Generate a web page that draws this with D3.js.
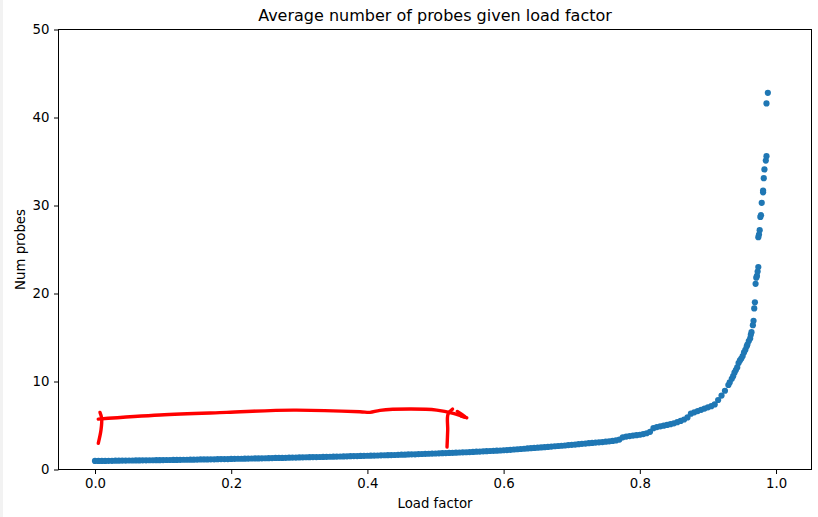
<!DOCTYPE html>
<html>
<head>
<meta charset="utf-8">
<script src="https://cdn.jsdelivr.net/npm/d3@7"></script>
<style>
  html, body { margin: 0; padding: 0; background: #fff; }
  svg { display: block; }
  text { font-family: 'DejaVu Sans', sans-serif; fill: #000; }
</style>
</head>
<body>
<svg id="chart"></svg>
<script>
// 平均探測次數 vs 負載因子（散點 + 手繪紅色標註）

// 密集段 [load factor, num probes]
const curvePoints = [
  [0.000,0.97],[0.005,0.97],[0.010,0.98],[0.015,0.98],[0.020,0.99],[0.025,0.99],[0.030,1.00],[0.035,1.00],
  [0.040,1.01],[0.045,1.01],[0.050,1.02],[0.055,1.02],[0.060,1.03],[0.065,1.03],[0.070,1.04],[0.075,1.04],
  [0.080,1.05],[0.085,1.05],[0.090,1.06],[0.095,1.06],[0.100,1.07],[0.105,1.08],[0.110,1.08],[0.115,1.09],
  [0.120,1.09],[0.125,1.10],[0.130,1.11],[0.135,1.11],[0.140,1.12],[0.145,1.12],[0.150,1.13],[0.155,1.14],
  [0.160,1.14],[0.165,1.15],[0.170,1.16],[0.175,1.16],[0.180,1.17],[0.185,1.18],[0.190,1.19],[0.195,1.19],
  [0.200,1.20],[0.205,1.21],[0.210,1.22],[0.215,1.22],[0.220,1.23],[0.225,1.24],[0.230,1.25],[0.235,1.26],
  [0.240,1.26],[0.245,1.27],[0.250,1.28],[0.255,1.29],[0.260,1.30],[0.265,1.31],[0.270,1.31],[0.275,1.32],
  [0.280,1.33],[0.285,1.34],[0.290,1.35],[0.295,1.36],[0.300,1.37],[0.305,1.38],[0.310,1.39],[0.315,1.40],
  [0.320,1.41],[0.325,1.41],[0.330,1.42],[0.335,1.43],[0.340,1.44],[0.345,1.45],[0.350,1.46],[0.355,1.47],
  [0.360,1.48],[0.365,1.49],[0.370,1.50],[0.375,1.51],[0.380,1.52],[0.385,1.53],[0.390,1.54],[0.395,1.55],
  [0.400,1.56],[0.405,1.57],[0.410,1.58],[0.415,1.59],[0.420,1.61],[0.425,1.62],[0.430,1.63],[0.435,1.64],
  [0.440,1.65],[0.445,1.67],[0.450,1.68],[0.455,1.69],[0.460,1.71],[0.465,1.72],[0.470,1.73],[0.475,1.75],
  [0.480,1.76],[0.485,1.78],[0.490,1.79],[0.495,1.81],[0.500,1.82],[0.505,1.84],[0.510,1.85],[0.515,1.87],
  [0.520,1.88],[0.525,1.90],[0.530,1.91],[0.535,1.93],[0.540,1.95],[0.545,1.96],[0.550,1.98],[0.555,2.00],
  [0.560,2.02],[0.565,2.04],[0.570,2.06],[0.575,2.08],[0.580,2.10],[0.585,2.12],[0.590,2.14],[0.595,2.16],
  [0.600,2.19],[0.605,2.21],[0.610,2.24],[0.615,2.27],[0.620,2.30],[0.625,2.33],[0.630,2.36],[0.635,2.39],
  [0.640,2.42],[0.645,2.45],[0.650,2.48],[0.655,2.51],[0.660,2.54],[0.665,2.57],[0.670,2.61],[0.675,2.64],
  [0.680,2.67],[0.685,2.70],[0.690,2.73],[0.695,2.77],[0.700,2.80],[0.705,2.83],[0.710,2.88],[0.715,2.92],
  [0.720,2.95],[0.725,2.99],[0.730,3.02],[0.735,3.06],[0.740,3.09],[0.745,3.12],[0.750,3.16],[0.755,3.20],
  [0.760,3.25],[0.765,3.30],[0.770,3.40],[0.775,3.66],[0.780,3.74],[0.785,3.80],[0.790,3.85],[0.795,3.90],
  [0.800,3.95],[0.805,4.03],[0.810,4.12],[0.815,4.28],[0.820,4.70],[0.825,4.82],[0.830,4.91],[0.835,4.98],
  [0.840,5.06],[0.845,5.15],[0.850,5.25],[0.855,5.38],[0.860,5.52],[0.865,5.68],[0.870,5.92],[0.875,6.34],
  [0.880,6.50],[0.885,6.64],[0.890,6.78],[0.895,6.92],[0.900,7.06],[0.905,7.20],[0.910,7.40],[0.915,7.90],
  [0.920,8.40],[0.925,8.95],[0.930,9.60]
];

// 稀疏尾段（接近滿載）
const tailPoints = [
  [0.932,9.9],[0.935,10.3],[0.937,10.6],[0.939,11.0],[0.941,11.3],[0.943,11.6],[0.945,12.1],[0.947,12.4],
  [0.949,12.6],[0.951,12.9],[0.953,13.3],[0.955,13.6],[0.957,14.0],[0.958,14.2],[0.960,14.6],[0.962,14.9],
  [0.963,15.3],[0.964,15.6],[0.966,16.4],[0.967,16.9],[0.968,18.3],[0.969,19.0],[0.970,21.1],[0.971,21.8],
  [0.972,22.0],[0.973,22.5],[0.974,23.0],[0.974,26.4],[0.975,26.7],[0.976,27.2],[0.977,28.7],[0.978,28.9],
  [0.979,30.3],[0.981,31.5],[0.981,31.7],[0.982,33.1],[0.983,34.1],[0.985,35.1],[0.986,35.6],[0.986,41.6],
  [0.988,42.8]
];

const xTicks = [0.0, 0.2, 0.4, 0.6, 0.8, 1.0];
const yTicks = [0, 10, 20, 30, 40, 50];

// 紅色手繪標註（資料座標）
const redMain = [
  [0.0048,5.73],[0.0954,6.19],[0.1934,6.49],[0.2912,6.75],[0.3891,6.56],[0.4038,6.49],
  [0.4185,6.72],[0.4626,6.87],[0.5018,6.75],[0.5261,6.38],[0.5458,5.88]
];
const redLeft = [[0.0073,6.49],[0.0098,5.81],[0.0088,4.48],[0.0048,2.97]];
const redRight = [[0.5250,6.87],[0.5184,6.30],[0.5179,4.48],[0.5169,2.55]];
const redHook = [[0.5320,6.60],[0.5458,5.88],[0.5380,6.05]];

const W = 818, H = 517;
const M = { left: 58.5, right: 811.5, top: 29.5, bottom: 469.5 };

const svg = d3.select('#chart').attr('width', W).attr('height', H);

svg.append('rect').attr('width', W).attr('height', H).attr('fill', '#fff');
svg.append('rect').attr('width', 3).attr('height', H).attr('fill', '#f2f2f2');

const x = d3.scaleLinear().domain([-0.0536, 1.0521]).range([M.left, M.right]);
const y = d3.scaleLinear().domain([0, 50]).range([M.bottom, M.top]);

const defs = svg.append('defs');
defs.append('clipPath').attr('id', 'plotClip')
  .append('rect')
  .attr('x', M.left).attr('y', M.top)
  .attr('width', M.right - M.left).attr('height', M.bottom - M.top);
defs.append('filter').attr('id', 'soft')
  .append('feGaussianBlur').attr('stdDeviation', 0.45);

// 散點
svg.append('g')
  .attr('clip-path', 'url(#plotClip)')
  .selectAll('circle')
  .data(curvePoints.concat(tailPoints))
  .join('circle')
  .attr('cx', d => x(d[0]))
  .attr('cy', d => y(d[1]))
  .attr('r', 3.1)
  .attr('fill', '#1f77b4');

// 紅筆
const line = d3.line().x(d => x(d[0])).y(d => y(d[1])).curve(d3.curveCatmullRom);
svg.append('g')
  .attr('filter', 'url(#soft)')
  .selectAll('path')
  .data([redMain, redLeft, redRight, redHook])
  .join('path')
  .attr('d', line)
  .attr('fill', 'none')
  .attr('stroke', '#ff0000')
  .attr('stroke-width', 3.4)
  .attr('stroke-linecap', 'round')
  .attr('stroke-linejoin', 'round');

// 座標軸
const xAxis = svg.append('g')
  .attr('transform', `translate(0,${M.bottom})`)
  .call(d3.axisBottom(x).tickValues(xTicks).tickFormat(d3.format('.1f')).tickSize(4.5).tickPadding(5));
const yAxis = svg.append('g')
  .attr('transform', `translate(${M.left},0)`)
  .call(d3.axisLeft(y).tickValues(yTicks).tickSize(4.5).tickPadding(4.5));

[xAxis, yAxis].forEach(g => {
  g.select('.domain').remove();
  g.selectAll('line').attr('stroke', '#000').attr('stroke-width', 1);
  g.selectAll('text').attr('font-size', '13.3px').attr('fill', '#000')
    .style('font-family', "'DejaVu Sans', sans-serif");
});

// 外框
svg.append('rect')
  .attr('x', M.left).attr('y', M.top)
  .attr('width', M.right - M.left).attr('height', M.bottom - M.top)
  .attr('fill', 'none').attr('stroke', '#000').attr('stroke-width', 1);

// 標題與軸名
const cx = (M.left + M.right) / 2;
svg.append('text')
  .attr('x', cx).attr('y', 21)
  .attr('text-anchor', 'middle')
  .attr('font-size', '16px')
  .text('Average number of probes given load factor');

svg.append('text')
  .attr('x', cx).attr('y', 508)
  .attr('text-anchor', 'middle')
  .attr('font-size', '13.3px')
  .text('Load factor');

svg.append('text')
  .attr('transform', `translate(25,${(M.top + M.bottom) / 2}) rotate(-90)`)
  .attr('text-anchor', 'middle')
  .attr('font-size', '13.3px')
  .text('Num probes');
</script>
</body>
</html>
